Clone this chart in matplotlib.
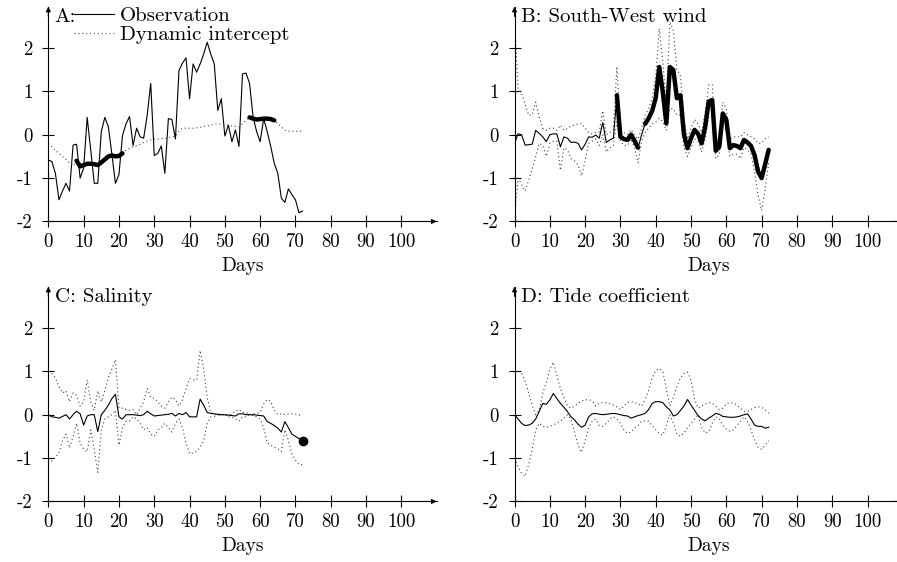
import matplotlib
matplotlib.use("Agg")
import matplotlib.pyplot as plt
from matplotlib.lines import Line2D

plt.rcParams['font.family'] = ['cmr10', 'DejaVu Serif']
plt.rcParams['axes.unicode_minus'] = False
plt.rcParams['mathtext.fontset'] = 'cm'

days = list(range(73))

# Panel A
obs_A = [-0.58, -0.62, -0.89, -1.5, -1.3, -1.12, -1.3, -0.24, -0.22, -1.0,
         -0.77, 0.4, -0.35, -1.12, -1.12, 0.07, 0.4, 0.18, -0.45, -1.12,
         -0.92, -0.02, 0.25, 0.42, -0.25, 0.15, -0.05, -0.08, 0.45, 1.18,
         -0.48, -0.43, -0.26, -0.89, 0.37, 0.35, -0.1, 1.48, 1.65, 1.77,
         0.83, 1.63, 1.44, 1.63, 1.86, 2.13, 1.86, 1.63, 0.56, 0.83,
         -0.03, 0.22, -0.16, 0.11, -0.27, 1.4, 1.42, 1.18, 0.41, 0.07,
         -0.16, 0.37, 0.07, -0.27, -0.66, -0.89, -1.46, -1.56, -1.25, -1.38,
         -1.5, -1.8, -1.76]
intercept_A = [-0.2, -0.28, -0.36, -0.43, -0.5, -0.57, -0.65, -0.72, -0.6, -0.73,
               -0.7, -0.67, -0.67, -0.68, -0.7, -0.64, -0.57, -0.5, -0.48, -0.5,
               -0.49, -0.43, -0.36, -0.31, -0.28, -0.25, -0.22, -0.18, -0.15, -0.12,
               -0.1, -0.1, -0.09, -0.08, -0.07, -0.05, -0.04, 0.08, 0.15, 0.15,
               0.15, 0.15, 0.16, 0.17, 0.19, 0.2, 0.22, 0.24, 0.25, 0.24,
               0.23, 0.22, 0.2, 0.19, 0.18, 0.25, 0.33, 0.4, 0.37, 0.35,
               0.36, 0.37, 0.37, 0.36, 0.33, 0.25, 0.18, 0.1, 0.08, 0.08,
               0.08, 0.08, 0.09]
sig_A = [(8, 21), (57, 64)]

# Panel B: South-West wind
coef_B = [-0.2, 0.02, 0.0, -0.24, -0.23, -0.22, 0.1, 0.03, -0.05, -0.16,
          0.0, 0.02, 0.02, -0.28, -0.05, -0.08, -0.18, -0.17, -0.2, -0.35,
          -0.22, -0.05, -0.06, -0.01, -0.08, 0.28, -0.18, -0.12, -0.08, 0.91,
          -0.05, -0.1, -0.12, 0.0, -0.14, -0.3, 0.0, 0.25, 0.38, 0.55,
          0.85, 1.56, 0.99, 0.26, 1.56, 1.49, 0.84, 0.91, 0.0, -0.31,
          -0.08, 0.11, 0.02, -0.2, 0.18, 0.76, 0.8, -0.37, -0.28, 0.49,
          0.34, -0.31, -0.24, -0.26, -0.31, -0.12, -0.18, -0.26, -0.47, -0.85,
          -1.0, -0.68, -0.35]
upper_B = [2.7, 1.05, 0.95, 0.7, 0.45, 0.45, 0.75, 0.4, 0.15, 0.1,
           0.15, 0.15, 0.1, 0.22, 0.1, 0.15, 0.2, 0.22, 0.25, 0.26,
           0.15, 0.05, 0.02, 0.05, 0.06, 0.55, 0.0, 0.05, 0.1, 1.57,
           0.1, 0.05, 0.0, 0.12, 0.0, -0.1, 0.15, 0.45, 0.6, 0.85,
           1.35, 2.45, 1.7, 0.65, 2.6, 2.4, 1.5, 1.35, 0.35, -0.1,
           0.15, 0.35, 0.25, 0.05, 0.5, 1.15, 1.15, -0.15, -0.05, 0.75,
           0.6, -0.1, -0.05, -0.05, -0.05, 0.05, 0.0, -0.05, -0.1, -0.2,
           -0.2, -0.1, -0.05]
lower_B = [-1.9, -1.0, -1.15, -1.3, -1.05, -0.8, -0.5, -0.2, -0.25, -0.5,
           -0.2, -0.15, -0.15, -0.82, -0.3, -0.35, -0.55, -0.6, -0.7, -0.95,
           -0.6, -0.2, -0.15, -0.1, -0.25, 0.0, -0.4, -0.3, -0.25, 0.3,
           -0.15, -0.25, -0.25, -0.1, -0.3, -0.65, -0.15, 0.05, 0.15, 0.25,
           0.3, 0.38, 0.3, 0.1, 0.6, 0.6, 0.45, 0.45, -0.3, -0.5,
           -0.3, -0.1, -0.15, -0.4, -0.1, 0.4, 0.45, -0.55, -0.45, 0.2,
           0.1, -0.5, -0.45, -0.45, -0.55, -0.3, -0.35, -0.45, -0.85, -1.4,
           -1.75, -1.25, -0.65]
sig_B = [(29, 35), (37, 72)]

# Panel C: Salinity
coef_C = [0.0, -0.05, -0.06, -0.08, -0.04, 0.0, -0.1, 0.0, 0.08, 0.02,
          -0.24, -0.03, 0.0, 0.0, -0.39, 0.0, 0.1, 0.22, 0.37, 0.47,
          -0.05, -0.1, 0.0, 0.0, 0.0, -0.01, -0.02, 0.0, 0.08, 0.02,
          -0.03, -0.02, -0.01, 0.0, 0.01, 0.03, -0.03, 0.03, 0.0, 0.05,
          -0.05, -0.05, -0.05, 0.36, 0.22, 0.05, 0.03, 0.02, 0.01, 0.0,
          0.0, -0.01, -0.02, -0.03, 0.02, 0.02, 0.0, 0.0, 0.0, -0.01,
          -0.02, -0.03, -0.16, -0.2, -0.25, -0.31, -0.4, -0.16, -0.3, -0.45,
          -0.5, -0.55, -0.6]
upper_C = [1.0, 0.95, 0.85, 0.65, 0.5, 0.55, 0.3, 0.5, 0.45, 0.2,
           0.3, 0.8, 0.3, 0.1, 0.55, 0.3, 0.55, 0.85, 1.05, 1.27,
           0.15, 0.15, 0.12, 0.1, 0.12, 0.0, 0.15, 0.3, 0.6, 0.4,
           0.38, 0.3, 0.2, 0.15, 0.3, 0.4, 0.35, 0.2, 0.35, 0.6,
           0.83, 0.8, 0.8, 1.48, 1.05, 0.4, 0.05, 0.02, -0.02, 0.0,
           0.0, -0.03, 0.02, 0.08, 0.12, 0.05, 0.05, 0.0, 0.02, 0.03,
           0.05, 0.25, 0.35, 0.3, 0.1, 0.0, 0.02, 0.0, 0.02, 0.02,
           0.01, 0.0, -0.05]
lower_C = [-1.0, -1.07, -0.98, -0.88, -0.6, -0.45, -0.77, -0.5, -0.2, -0.65,
           -0.8, -0.85, -0.35, -0.8, -1.33, -0.35, -0.1, -0.05, 0.0, 0.1,
           -0.7, -0.3, -0.15, -0.15, -0.05, -0.1, -0.2, -0.35, -0.3, -0.45,
           -0.5, -0.35, -0.3, -0.2, -0.3, -0.4, -0.2, -0.1, -0.3, -0.65,
           -0.9, -0.88, -0.85, -0.75, -0.6, -0.2, -0.05, -0.04, 0.0, 0.0,
           0.0, -0.05, -0.05, -0.1, -0.15, -0.05, -0.05, 0.0, -0.02, -0.05,
           -0.1, -0.3, -0.65, -0.7, -0.75, -0.78, -0.85, -0.35, -0.6, -0.9,
           -1.05, -1.15, -1.15]

# Panel D: Tide coefficient
coef_D = [0.0, -0.1, -0.2, -0.25, -0.24, -0.2, -0.1, 0.08, 0.26, 0.24,
          0.34, 0.49, 0.37, 0.26, 0.17, 0.07, -0.05, -0.12, -0.22, -0.29,
          -0.24, -0.05, 0.02, 0.03, 0.01, 0.0, 0.01, 0.02, 0.03, 0.02,
          0.0, -0.02, -0.03, -0.08, -0.05, -0.02, 0.0, 0.03, 0.12, 0.26,
          0.3, 0.3, 0.28, 0.18, 0.11, -0.03, 0.0, 0.1, 0.2, 0.35,
          0.22, 0.1, -0.02, -0.1, -0.14, -0.08, -0.03, 0.03, 0.01, -0.04,
          -0.05, -0.06, -0.06, -0.05, -0.03, 0.0, 0.02, -0.1, -0.24, -0.27,
          -0.27, -0.31, -0.29]
upper_D = [1.0, 1.0, 0.95, 0.78, 0.5, 0.22, 0.0, 0.1, 0.49, 0.75,
           1.05, 1.21, 0.9, 0.6, 0.4, 0.2, 0.15, 0.2, 0.26, 0.32,
           0.34, 0.35, 0.32, 0.2, 0.27, 0.28, 0.27, 0.25, 0.22, 0.18,
           0.12, 0.2, 0.28, 0.3, 0.28, 0.25, 0.2, 0.35, 0.56, 0.85,
           1.02, 1.06, 1.0, 0.6, 0.2, 0.4, 0.65, 0.85, 0.95, 0.98,
           0.8, 0.35, 0.15, 0.2, 0.25, 0.28, 0.26, 0.2, 0.12, 0.15,
           0.25, 0.28, 0.27, 0.22, 0.15, 0.08, 0.07, 0.12, 0.16, 0.18,
           0.17, 0.12, 0.03]
lower_D = [-1.0, -1.2, -1.35, -1.42, -1.15, -0.8, -0.35, -0.2, -0.27, -0.29,
           -0.27, -0.23, -0.2, -0.15, -0.08, 0.0, -0.1, -0.4, -0.7, -0.87,
           -0.6, -0.3, -0.15, -0.1, -0.25, -0.27, -0.2, -0.1, -0.05, -0.1,
           -0.2, -0.35, -0.43, -0.4, -0.3, -0.25, -0.15, -0.15, -0.15, -0.25,
           -0.35, -0.44, -0.47, -0.25, 0.0, -0.2, -0.45, -0.5, -0.42, -0.3,
           -0.2, -0.1, 0.0, -0.3, -0.42, -0.4, -0.2, -0.05, -0.1, -0.25,
           -0.33, -0.38, -0.35, -0.25, -0.15, -0.05, -0.15, -0.35, -0.58, -0.75,
           -0.8, -0.7, -0.6]

x_ticks = [0, 10, 20, 30, 40, 50, 60, 70, 80, 90, 100]
y_ticks = [-2, -1, 0, 1, 2]
y_labels = ["-2", "-1", "0", "1", "2"]

titles = ["A:", "B: South-West wind", "C: Salinity", "D: Tide coefficient"]

DOT = (0, (1, 2.5))
THIN = 0.8
THICK = 3.2

fig = plt.figure(figsize=(8.97, 5.62), dpi=100)
W, H = 0.4329, 0.3822
axA = fig.add_axes([0.0539, 0.6059, W, H])
axB = fig.add_axes([0.5736, 0.6059, W, H])
axC = fig.add_axes([0.0539, 0.1077, W, H])
axD = fig.add_axes([0.5736, 0.1077, W, H])


def style(ax, title):
    ax.set_xlim(0, 110)
    ax.set_ylim(-2, 2.95)
    for s in ("top", "right"):
        ax.spines[s].set_visible(False)
    for s in ("left", "bottom"):
        ax.spines[s].set_linewidth(0.8)
    ax.set_xticks(x_ticks)
    ax.set_xticklabels([str(t) for t in x_ticks], fontsize=13.5)
    ax.set_yticks(y_ticks)
    ax.set_yticklabels(y_labels, fontsize=13.5)
    ax.tick_params(axis="x", direction="inout", length=9, width=0.8, pad=4)
    ax.tick_params(axis="y", direction="inout", length=9, width=0.8, pad=7)
    ax.set_xlabel("Days", fontsize=14, labelpad=4.5)
    ax.annotate("", xy=(1, 0), xycoords="axes fraction", xytext=(-7, 0),
                textcoords="offset points",
                arrowprops=dict(arrowstyle="-|>", lw=0.8, color="k",
                                mutation_scale=7, shrinkA=0, shrinkB=0),
                annotation_clip=False)
    ax.annotate("", xy=(0, 1), xycoords="axes fraction", xytext=(0, -7),
                textcoords="offset points",
                arrowprops=dict(arrowstyle="-|>", lw=0.8, color="k",
                                mutation_scale=7, shrinkA=0, shrinkB=0),
                annotation_clip=False)
    ax.text(1.8, 2.72, title, fontsize=15, va="center", ha="left")


def thick_segments(ax, y, spans):
    for a, b in spans:
        ax.plot(days[a:b + 1], y[a:b + 1], color="k", lw=THICK,
                solid_capstyle="round", solid_joinstyle="round")


# A
style(axA, titles[0])
axA.plot(days, obs_A, color="k", lw=THIN)
axA.plot(days, intercept_A, color="0.3", lw=THIN, linestyle=DOT)
thick_segments(axA, intercept_A, sig_A)
handles = [Line2D([], [], color="k", lw=THIN),
           Line2D([], [], color="0.3", lw=THIN, linestyle=DOT)]
axA.legend(handles, ["Observation", "Dynamic intercept"], loc="upper left",
           bbox_to_anchor=(0.083, 0.988), bbox_transform=fig.transFigure,
           frameon=False, fontsize=15, handlelength=1.9, handletextpad=0.3,
           labelspacing=0.0, borderpad=0, borderaxespad=0)

# B
style(axB, titles[1])
axB.plot(days, upper_B, color="0.25", lw=THIN, linestyle=DOT)
axB.plot(days, lower_B, color="0.25", lw=THIN, linestyle=DOT)
axB.plot(days, coef_B, color="k", lw=THIN)
thick_segments(axB, coef_B, sig_B)

# C
style(axC, titles[2])
axC.plot(days, upper_C, color="0.25", lw=THIN, linestyle=DOT)
axC.plot(days, lower_C, color="0.25", lw=THIN, linestyle=DOT)
axC.plot(days, coef_C, color="k", lw=THIN)
axC.plot(days[-1:], coef_C[-1:], "o", color="k", ms=6)

# D
style(axD, titles[3])
axD.plot(days, upper_D, color="0.25", lw=THIN, linestyle=DOT)
axD.plot(days, lower_D, color="0.25", lw=THIN, linestyle=DOT)
axD.plot(days, coef_D, color="k", lw=THIN)

fig.savefig("out.png", dpi=100)
